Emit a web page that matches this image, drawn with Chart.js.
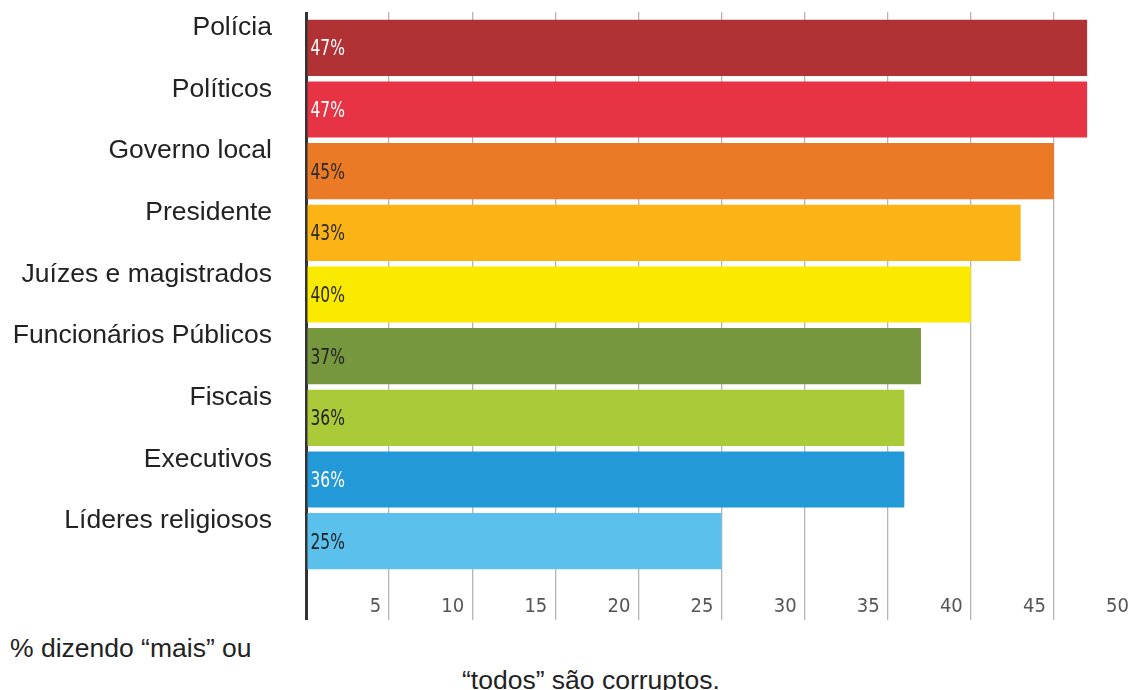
<!DOCTYPE html>
<html>
<head>
<meta charset="utf-8">
<script src="https://cdn.jsdelivr.net/npm/chart.js@4.4.1/dist/chart.umd.min.js"></script>
<style>
  html, body { margin: 0; padding: 0; width: 1128px; height: 690px; overflow: hidden; background: #fff; }
  #wrap { position: absolute; left: 0; top: 0; width: 1140px; height: 625px; }
  .cap { position: absolute; font-family: 'Liberation Sans', Arial, sans-serif; font-size: 26.5px; line-height: 30px; color: #222; white-space: nowrap; }
</style>
</head>
<body>
<div id="wrap"><canvas id="c" width="1140" height="625"></canvas></div>
<div class="cap" style="left:10px; top:633px;">% dizendo “mais” ou</div>
<div class="cap" style="left:462px; top:665px;">“todos” são corruptos.</div>
<script>
const categories = ['Polícia', 'Políticos', 'Governo local', 'Presidente', 'Juízes e magistrados', 'Funcionários Públicos', 'Fiscais', 'Executivos', 'Líderes religiosos'];
const values = [47, 47, 45, 43, 40, 37, 36, 36, 25];
const xTickValues = [5, 10, 15, 20, 25, 30, 35, 40, 45, 50];
const barColors = ['#B13235', '#E73444', '#EB7A27', '#FCB316', '#FAEA00', '#76973D', '#AACA3A', '#2499D7', '#5BC1EC'];
const labelColors = ['#ffffff', '#ffffff', '#2a2a2a', '#2a2a2a', '#2a2a2a', '#222222', '#222222', '#ffffff', '#222222'];

const condensed = "'Liberation Sans Narrow', 'DejaVu Sans Condensed', 'Arial Narrow', sans-serif";

const barLabels = {
  id: 'barLabels',
  afterDatasetsDraw(chart) {
    const ctx = chart.ctx;
    const meta = chart.getDatasetMeta(0);
    meta.data.forEach((el, i) => {
      ctx.save();
      ctx.font = '21px ' + condensed;
      ctx.textAlign = 'left';
      ctx.textBaseline = 'middle';
      ctx.fillStyle = labelColors[i];
      const x0 = Math.min(el.base, el.x) + 3;
      ctx.translate(x0, el.y + 2);
      ctx.scale(0.82, 1);
      ctx.fillText(values[i] + '%', 0, 0);
      ctx.restore();
    });
  }
};

new Chart(document.getElementById('c'), {
  type: 'bar',
  data: {
    labels: categories,
    datasets: [{
      data: values,
      backgroundColor: barColors,
      borderWidth: 0,
      categoryPercentage: 1,
      barPercentage: 0.91
    }]
  },
  options: {
    indexAxis: 'y',
    responsive: false,
    devicePixelRatio: 1,
    animation: false,
    layout: { padding: { left: 12, top: 12, right: 3, bottom: 0 } },
    plugins: { legend: { display: false }, tooltip: { enabled: false } },
    scales: {
      x: {
        position: 'bottom',
        min: 0, max: 50,
        afterBuildTicks(scale) { scale.ticks = [0].concat(xTickValues).map(v => ({ value: v })); },
        afterFit(scale) { scale.height = 53; scale.paddingLeft = 0; scale.paddingRight = 0; },
        border: { display: false },
        grid: {
          color: (c) => c.tick && c.tick.value === 0 ? '#333333' : '#b5b5b5',
          lineWidth: (c) => c.tick && c.tick.value === 0 ? 3 : 1.3,
          tickLength: 48,
          drawTicks: true
        },
        ticks: {
          align: 'end',
          labelOffset: -8,
          padding: -25,
          maxRotation: 0,
          autoSkip: false,
          color: '#555555',
          font: { family: condensed, size: 20 },
          callback: (v) => v === 0 ? '' : String(v)
        }
      },
      xTop: {
        axis: 'x',
        position: 'top',
        min: 0, max: 50,
        afterBuildTicks(scale) { scale.ticks = [0].concat(xTickValues).map(v => ({ value: v })); },
        afterFit(scale) { scale.height = 5; scale.paddingLeft = 0; scale.paddingRight = 0; },
        border: { display: false },
        grid: {
          drawOnChartArea: false,
          color: (c) => c.tick && c.tick.value === 0 ? '#333333' : '#b5b5b5',
          lineWidth: (c) => c.tick && c.tick.value === 0 ? 3 : 1.3,
          tickLength: 5
        },
        ticks: { display: false }
      },
      y: {
        position: 'left',
        z: 1,
        afterFit(scale) { scale.width = 294; scale.paddingTop = 0; scale.paddingBottom = 0; },
        border: { display: true, color: '#333333', width: 3 },
        grid: { display: false, drawTicks: false },
        ticks: {
          padding: 34,
          labelOffset: -20,
          color: '#222222',
          font: { family: "'Liberation Sans', Arial, sans-serif", size: 26.5 },
          autoSkip: false
        }
      }
    }
  },
  plugins: [barLabels]
});
</script>
</body>
</html>
